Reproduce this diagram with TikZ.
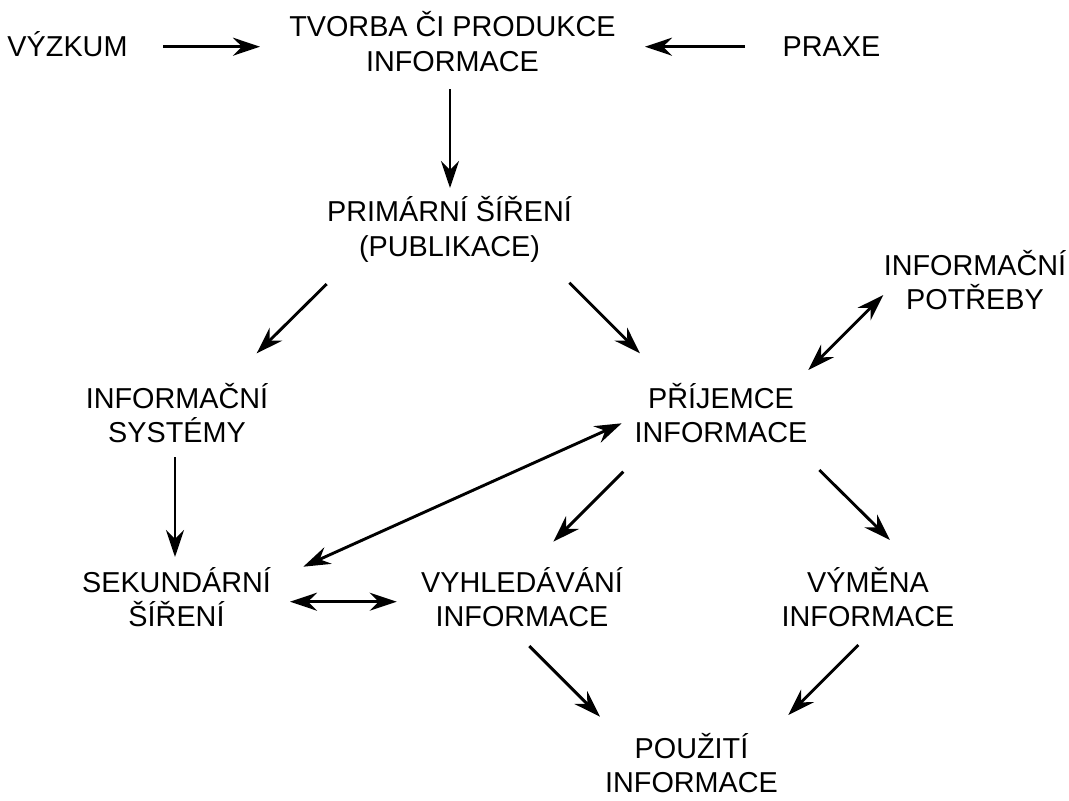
\documentclass[tikz,border=0pt]{standalone}
\usepackage{fontspec}
\setmainfont{Liberation Sans}
\usetikzlibrary{arrows.meta,calc}
\newcommand\lstrut{\rule[-7.5pt]{0pt}{34.5pt}}
\newcommand\lastrut{\rule[-1pt]{0pt}{28pt}}
\begin{document}
\begin{tikzpicture}[x=1pt,y=-1pt,
  lbl/.style={anchor=north,inner sep=0pt,outer sep=0pt,align=center,font=\fontsize{28.8}{34.5}\selectfont},
  arr/.style={line width=2.9pt,-{Stealth[length=27pt,width=18pt,inset=9pt]}},
  darr/.style={line width=2.9pt,{Stealth[length=27pt,width=18pt,inset=9pt]}-{Stealth[length=27pt,width=18pt,inset=9pt]}}]
\useasboundingbox[fill=white] (0,0) rectangle (1069,801);

\node[lbl] (vyz) at (67.5,29) {\lstrut VÝZKUM};
\node[lbl] (tvo) at (452.5,9.5) {\lstrut TVORBA ČI PRODUKCE\\\lstrut INFORMACE};
\node[lbl] (pra) at (831.5,29) {\lstrut PRAXE};
\node[lbl] (pri) at (449.5,194.5) {\lstrut PRIMÁRNÍ ŠÍŘENÍ\\\lstrut (PUBLIKACE)};
\node[lbl] (pot) at (975,248) {\lstrut INFORMAČNÍ\\\lstrut POTŘEBY};
\node[lbl] (sys) at (177,381) {\lstrut INFORMAČNÍ\\\lstrut SYSTÉMY};
\node[lbl] (pje) at (721,381) {\lstrut PŘÍJEMCE\\\lstrut INFORMACE};
\node[lbl] (sek) at (176.5,565) {\lstrut SEKUNDÁRNÍ\\\lstrut ŠÍŘENÍ};
\node[lbl] (vyh) at (522,565) {\lstrut VYHLEDÁVÁNÍ\\\lstrut INFORMACE};
\node[lbl] (vym) at (868,565) {\lstrut VÝMĚNA\\\lstrut INFORMACE};
\node[lbl] (pou) at (691.5,731) {\lstrut POUŽITÍ\\\lastrut INFORMACE};

\draw[arr] ($(vyz.north)+(95.5,17.7)$) -- ($(tvo.north)+(-192.5,37.2)$);
\draw[arr] ($(pra.north)+(-86.5,17.7)$) -- ($(tvo.north)+(192.5,37.2)$);
\draw[arr] ($(tvo.north)+(-2.5,79.5)$) -- ($(pri.north)+(0.5,-6.5)$);
\draw[arr] ($(pri.north)+(-122.8,89.5)$) -- ($(sys.north)+(79.7,-27.7)$);
\draw[arr] ($(pri.north)+(119.8,88.2)$) -- ($(pje.north)+(-81,-27.7)$);
\draw[darr] ($(pot.north)+(-91.7,47)$) -- ($(pje.north)+(87.3,-11)$);
\draw[arr] ($(sys.north)+(-2,76)$) -- ($(sek.north)+(-1.5,-8)$);
\draw[darr] ($(sek.north)+(126.8,1.7)$) -- ($(pje.north)+(-99.3,42.3)$);
\draw[arr] ($(pje.north)+(-97.7,90.7)$) -- ($(vyh.north)+(31.3,-23.3)$);
\draw[darr] ($(sek.north)+(113.5,36.7)$) -- ($(vyh.north)+(-125.3,36.7)$);
\draw[arr] ($(pje.north)+(98.3,89)$) -- ($(vym.north)+(22,-25)$);
\draw[arr] ($(vyh.north)+(7.3,81)$) -- ($(pou.north)+(-91.5,-14.3)$);
\draw[arr] ($(vym.north)+(-9.7,80)$) -- ($(pou.north)+(96.8,-16)$);
\end{tikzpicture}
\end{document}
